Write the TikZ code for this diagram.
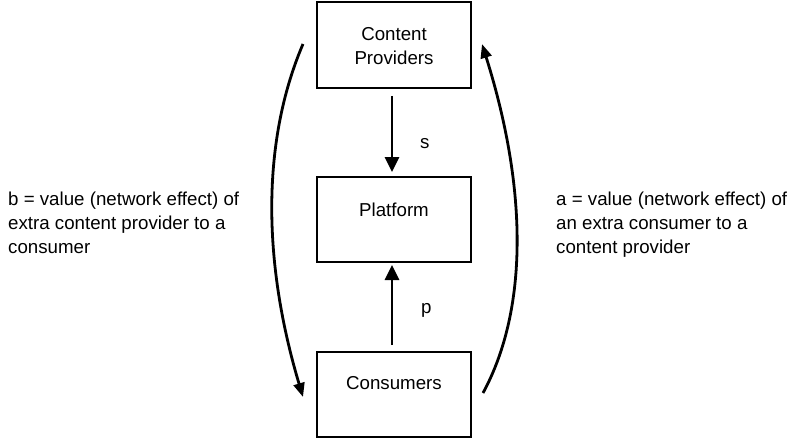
\documentclass[tikz,border=0pt]{standalone}
\usepackage{fontspec}
\setmainfont{Liberation Sans}
\usetikzlibrary{arrows.meta,calc}
\begin{document}
\begin{tikzpicture}[x=1pt,y=-1pt,
  every node/.style={font=\fontsize{18.7}{24}\selectfont},
  entity/.style={draw,line width=2.8pt,rectangle,anchor=north,inner sep=0pt,outer sep=0pt,
    minimum width=154pt,align=center,text height=39pt,text depth=47pt},
  flow/.style={line width=2.8pt,-{Triangle[length=15pt,width=14pt]}},
  effect/.style={line width=2.8pt,-{Triangle[length=14pt,width=11pt]}},
  note/.style={anchor=base west,align=left,inner sep=0pt}]
\useasboundingbox (0,0) rectangle (791,441);
\node[entity,text height=63pt,text depth=23pt] (cp) at (394,2) {Content\\Providers};
\node[entity,text depth=46pt] (pl) at (394,177) {Platform};
\node[entity,text height=37pt,text depth=48pt] (co) at (394,352) {Consumers};
\draw[flow] ($(cp.south)+(-2,8)$) -- ($(pl.north)+(-2,-5)$);
\draw[flow] ($(co.north)+(-2,-7)$) -- ($(pl.south)+(-2,3)$);
\node[anchor=base west,inner sep=0pt] (s) at (420,148) {s};
\node[anchor=base west,inner sep=0pt] (p) at (421,313) {p};
\draw[effect] ($(cp.west)+(-14,-1)$) .. controls (262,140) and (262,260) .. ($(co.west)+(-14,2.5)$);
\draw[effect] ($(co.east)+(12,-1.5)$) .. controls (528,310) and (528,190) .. ($(cp.east)+(11,-1)$);
\node[note] (b) at (8,253.5) {b = value (network effect) of\\extra content provider to a\\consumer};
\node[note] (a) at (556,253.5) {a = value (network effect) of\\an extra consumer to a\\content provider};
\end{tikzpicture}
\end{document}
